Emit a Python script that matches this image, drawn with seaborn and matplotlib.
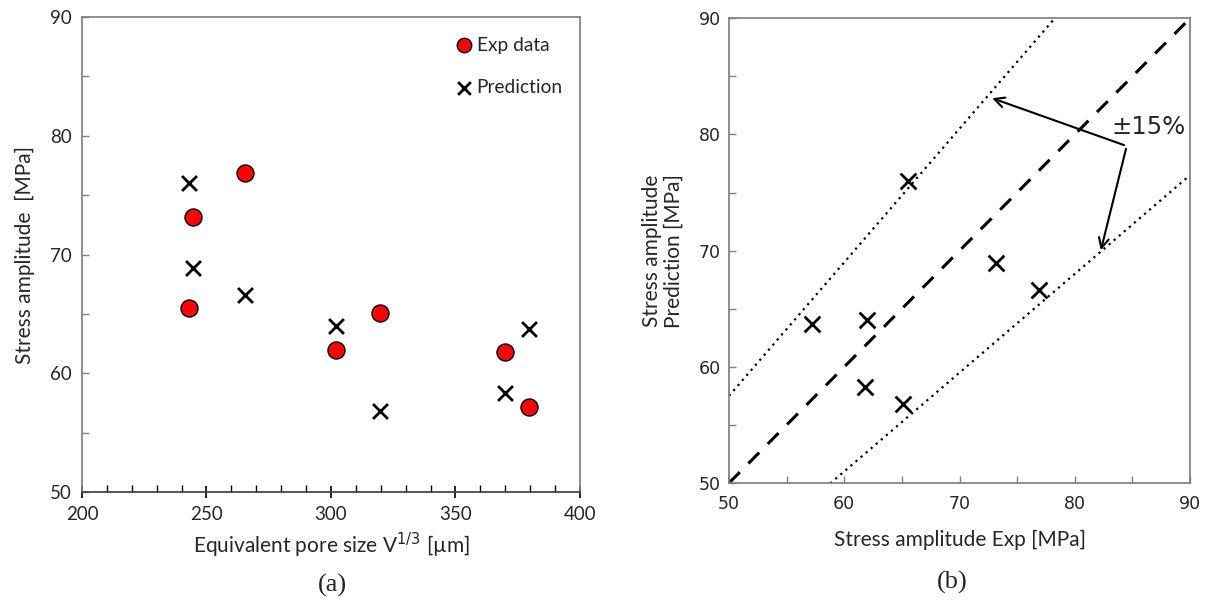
import numpy as np
import pandas as pd
import seaborn as sns
import matplotlib.pyplot as plt
from matplotlib.ticker import MultipleLocator

# pore size vs stress amplitude
pore_size = [243, 244.5, 265.5, 302, 319.5, 370, 379.5]
exp_data = [65.5, 73.2, 76.9, 62.0, 65.1, 61.8, 57.2]
prediction = [76.0, 68.9, 66.6, 64.0, 56.8, 58.3, 63.7]

# 1:1 line and +-15% bounds
diag_x = [50, 90]
band = 0.15

sns.set_theme(style="white")
plt.rcParams['font.family'] = ['Lato', 'DejaVu Sans']

fig = plt.figure(figsize=(12.07, 6.02), dpi=100)
ax1 = fig.add_axes([0.0679, 0.1827, 0.4126, 0.789])
ax2 = fig.add_axes([0.604, 0.1977, 0.382, 0.772])

grey = "#808080"

# ---- panel (a)
df = pd.DataFrame({"size": pore_size, "exp": exp_data, "pred": prediction})
sns.scatterplot(data=df, x="size", y="exp", ax=ax1, color="red", edgecolor="black",
                linewidth=1, s=150, label="Exp data", zorder=3)
sns.scatterplot(data=df, x="size", y="pred", ax=ax1, color="black", marker="x",
                linewidth=2, s=115, label="Prediction", zorder=3)
ax1.set_xlim(200, 400)
ax1.set_ylim(50, 90)
ax1.xaxis.set_major_locator(MultipleLocator(50))
ax1.xaxis.set_minor_locator(MultipleLocator(10))
ax1.yaxis.set_major_locator(MultipleLocator(10))
ax1.yaxis.set_minor_locator(MultipleLocator(5))
ax1.tick_params(axis="x", which="major", direction="inout", length=8, width=1.2, color="black",
                labelsize=13.5, pad=6, bottom=True)
ax1.tick_params(axis="x", which="minor", direction="in", length=5, width=1, color="black", bottom=True)
ax1.tick_params(axis="y", which="both", direction="in", length=5, width=1, color=grey,
                labelsize=13.5, pad=7, left=True)
for sp in ax1.spines.values():
    sp.set_color(grey)
ax1.spines["bottom"].set_color("#404040")
ax1.set_xlabel("Equivalent pore size V$^{1/3}$ [\u00b5m]", fontsize=15, labelpad=6)
ax1.set_ylabel("Stress amplitude  [MPa]", fontsize=15, labelpad=11)
leg = ax1.legend(loc="upper left", bbox_to_anchor=(0.748, 0.959), frameon=False, fontsize=13.8,
                 labelspacing=1.35, handlelength=1.0, handletextpad=0.15, borderpad=0,
                 borderaxespad=0, markerscale=0.85)

# ---- panel (b)
ax2.plot(diag_x, diag_x, color="black", linestyle=(0, (5, 4)), linewidth=2.2)
ax2.plot(diag_x, [v * (1 + band) for v in diag_x], color="black", linestyle=(0, (1, 2)), linewidth=1.6)
ax2.plot(diag_x, [v * (1 - band) for v in diag_x], color="black", linestyle=(0, (1, 2)), linewidth=1.6)
sns.scatterplot(x=exp_data, y=prediction, ax=ax2, color="black", marker="x",
                linewidth=2, s=130, zorder=3)
ax2.set_xlim(50, 90)
ax2.set_ylim(50, 90)
ax2.xaxis.set_major_locator(MultipleLocator(10))
ax2.xaxis.set_minor_locator(MultipleLocator(5))
ax2.yaxis.set_major_locator(MultipleLocator(10))
ax2.yaxis.set_minor_locator(MultipleLocator(5))
ax2.tick_params(axis="both", which="both", direction="in", length=5, width=1, color=grey,
                labelsize=12.5, left=True, bottom=True)
ax2.tick_params(axis="x", pad=9)
ax2.tick_params(axis="y", pad=6)
for lab in ax2.get_xticklabels() + ax2.get_yticklabels():
    lab.set_family("DejaVu Sans")
for sp in ax2.spines.values():
    sp.set_color(grey)
ax2.set_xlabel("Stress amplitude Exp [MPa]", fontsize=15, labelpad=12)
ax2.set_ylabel("Stress amplitude\nPrediction [MPa]", fontsize=15, labelpad=11, linespacing=1.1)

ax2.annotate("", xy=(72.6, 83.2), xytext=(84.5, 79.0),
             arrowprops=dict(arrowstyle="->", color="black", lw=1.5, mutation_scale=18))
ax2.annotate("", xy=(82.2, 69.8), xytext=(84.5, 79.0),
             arrowprops=dict(arrowstyle="->", color="black", lw=1.5, mutation_scale=18))
ax2.text(83.2, 80.6, "\u00b115%", fontsize=17.5, family="DejaVu Sans", va="center", ha="left")

# captions
fig.text(332 / 1207, 1 - 585 / 602, "(a)", fontsize=19, family="Liberation Serif", ha="center", va="center")
fig.text(952 / 1207, 1 - 582 / 602, "(b)", fontsize=19, family="Liberation Serif", ha="center", va="center")

fig.savefig("out.png", dpi=100)
